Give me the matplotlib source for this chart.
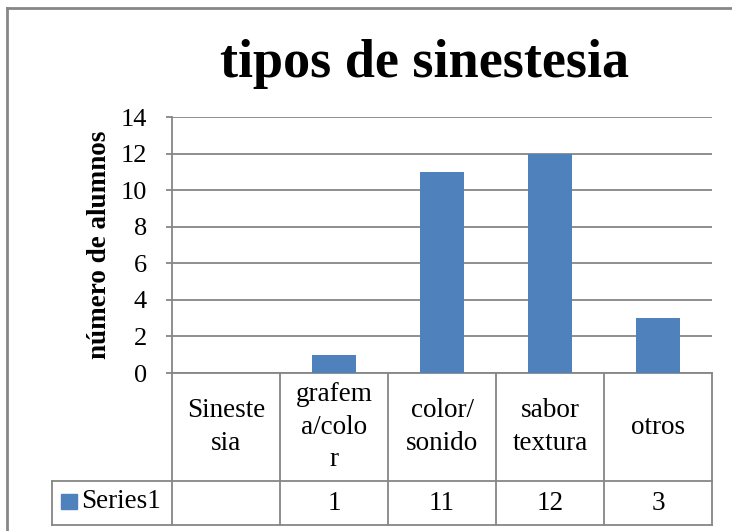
"""Excel-style column chart with a data table: tipos de sinestesia."""
import matplotlib
matplotlib.use("Agg")
import matplotlib.pyplot as plt
import numpy as np
from matplotlib.patches import Rectangle
from matplotlib.lines import Line2D

# --- data -----------------------------------------------------------------
categories = ["Sineste\nsia", "grafem\na/colo\nr", "color/\nsonido", "sabor\ntextura", "otros"]
values = [np.nan, 1, 11, 12, 3]
series_name = "Series1"
y_ticks = [0, 2, 4, 6, 8, 10, 12, 14]

title = "tipos de sinestesia"
y_label = "número de alumnos"

BAR = "#4F81BD"
GRID = "#868686"
FONT = "Liberation Serif"
FS = 19.5

W, H = 732, 531
fig = plt.figure(figsize=(W / 100, H / 100), dpi=100)


def px(x0, y0, x1, y1):
    """pixel box (top-left origin) -> figure rect"""
    return [x0 / W, 1 - y1 / H, (x1 - x0) / W, (y1 - y0) / H]


ax = fig.add_axes(px(172, 117, 712, 373))
x = np.arange(len(categories))
ax.bar(x, values, width=0.41, color=BAR, zorder=3)
ax.set_xlim(-0.5, len(categories) - 0.5)
ax.set_ylim(0, 14)
ax.set_yticks(y_ticks)
ax.set_yticklabels([str(t) for t in y_ticks], fontfamily=FONT, fontsize=19)
ax.set_xticks([])
ax.grid(axis="y", color=GRID, linewidth=1.3, zorder=0)
for s in ("top", "right", "bottom"):
    ax.spines[s].set_visible(False)
ax.spines["left"].set_color(GRID)
ax.spines["left"].set_linewidth(1.3)
ax.tick_params(axis="y", length=4, color=GRID, width=1.3, pad=14)
ax.set_ylabel(y_label, fontfamily=FONT, fontsize=19.5, fontweight="bold",
              va="center")
ax.yaxis.set_label_coords((100 - 172) / 540, 0.5)

fig.text(425 / W, 1 - 64 / H, title, ha="center", va="center",
         fontfamily=FONT, fontsize=39, fontweight="bold")

# --- data table under the plot (x in data units, y in axes fraction) -------
tr = ax.get_xaxis_transform()
ax_h = 373 - 117
y_head = -(481 - 373) / ax_h
y_bot = -(525 - 373) / ax_h
x_leg = -0.5 - (172 - 52) / 108.0
edges = np.arange(len(categories) + 1) - 0.5
kw = dict(color=GRID, linewidth=1.3, transform=tr, clip_on=False)

for e in edges:
    ax.add_line(Line2D([e, e], [0, y_bot], **kw))
ax.add_line(Line2D([edges[0], edges[-1]], [0, 0], **kw))
ax.add_line(Line2D([x_leg, edges[-1]], [y_head, y_head], **kw))
ax.add_line(Line2D([x_leg, edges[-1]], [y_bot, y_bot], **kw))
ax.add_line(Line2D([x_leg, x_leg], [y_head, y_bot], **kw))

for i, cat in enumerate(categories):
    ax.text(i, y_head / 2, cat, transform=tr, ha="center", va="center",
            fontfamily=FONT, fontsize=FS, linespacing=1.42, clip_on=False)
    v = values[i]
    if not np.isnan(v):
        ax.text(i, (y_head + y_bot) / 2, f"{int(v)}", transform=tr,
                ha="center", va="center", fontfamily=FONT, fontsize=FS, clip_on=False)

# legend key cell
fig.patches.append(Rectangle((61 / W, 1 - 509 / H), 16 / W, 15 / H,
                             transform=fig.transFigure, color=BAR))
fig.text(81 / W, 1 - 502 / H, series_name, ha="left", va="center",
         fontfamily=FONT, fontsize=FS)

# outer chart frame (right/bottom edges fall outside the picture)
fig.add_artist(Line2D([7 / W, 7 / W], [0, 1 - 8 / H], color="#878787",
                      linewidth=2, transform=fig.transFigure))
fig.add_artist(Line2D([7 / W, 1], [1 - 8 / H, 1 - 8 / H], color="#878787",
                      linewidth=2, transform=fig.transFigure))

fig.savefig("out.png", dpi=100)
